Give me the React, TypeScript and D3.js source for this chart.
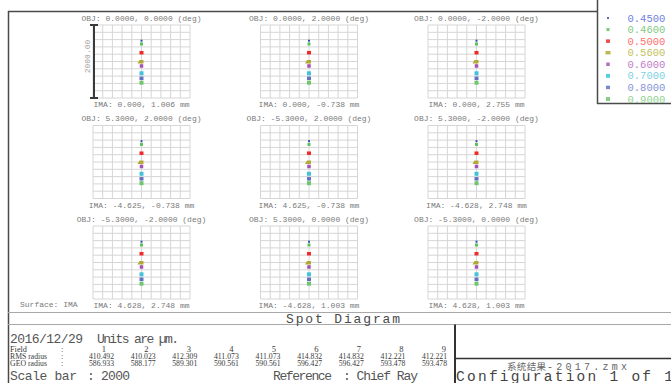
import React from 'react';
import * as d3 from 'd3';

// ---------- data ----------
const objLabels = [
  '0.0000, 0.0000', '0.0000, 2.0000', '0.0000, -2.0000',
  '5.3000, 2.0000', '-5.3000, 2.0000', '5.3000, -2.0000',
  '-5.3000, -2.0000', '5.3000, 0.0000', '-5.3000, 0.0000',
];
const imaLabels = [
  '0.000, 1.006', '0.000, -0.738', '0.000, 2.755',
  '-4.625, -0.738', '4.625, -0.738', '-4.628, 2.748',
  '4.628, 2.748', '-4.628, 1.003', '4.628, 1.003',
];
const wavelengths = ['0.4500', '0.4600', '0.5000', '0.5600', '0.6000', '0.7000', '0.8000', '0.9000'];
// centroid offsets of each wavelength spot (µm)
const spotY = [570, 480, 241, -5, -123, -323, -460, -581];
const spotX = [0, 0, 0, -10, 0, 0, 0, 0];
const fieldNumbers = [1, 2, 3, 4, 5, 6, 7, 8, 9];
const rmsRadius = ['410.492', '410.023', '412.309', '411.073', '411.073', '414.832', '414.832', '412.221', '412.221'];
const geoRadius = ['586.933', '588.177', '589.301', '590.561', '590.561', '596.427', '596.427', '593.478', '593.478'];
const rowLabels = ['Field', 'RMS radius', 'GEO radius'];
const scaleBar = 2000;
const gridTicks = d3.range(-1000, 1001, 200);

// ---------- styles ----------
const waveColors = ['#2f4fb5', '#5cc35c', '#f02a2a', '#b3aa35', '#a552b5', '#42c3d9', '#6272c2', '#6ec86e'];
const waveTextColors = ['#6f80e0', '#7fc97f', '#ff6f6f', '#c2c25e', '#c07cc8', '#7ed2e2', '#8594d6', '#8fd18f'];
const spotW = [2, 3, 4, 5, 3.5, 4, 4, 4];
const spotH = [2, 3, 3.5, 3.5, 3.5, 4, 3.5, 4];
const rowLabelWidths = [17, 37, 37];

const W = 671;
const H = 383;
const MONO = '"Liberation Mono", "DejaVu Sans Mono", monospace';
const SERIF = '"Liberation Serif", "DejaVu Serif", serif';

const gridW = 97;
const gridH = 73;
const colX = d3.scaleLinear().domain([0, 2]).range([93, 428]);
const rowY = d3.scaleLinear().domain([0, 2]).range([25, 226]);

function Panel({ idx }: { idx: number }) {
  const c = idx % 3;
  const r = Math.floor(idx / 3);
  const x0 = colX(c);
  const y0 = rowY(r);
  const xs = d3.scaleLinear().domain([-1000, 1000]).range([x0, x0 + gridW]);
  const ys = d3.scaleLinear().domain([-1000, 1000]).range([y0 + gridH, y0]);
  const cx = x0 + gridW / 2;
  return (
    <g>
      {gridTicks.map((t) => (
        <line key={'v' + t} x1={xs(t)} x2={xs(t)} y1={y0} y2={y0 + gridH} stroke="#d6d6d6" strokeWidth={1} />
      ))}
      {gridTicks.map((t) => (
        <line key={'h' + t} x1={x0} x2={x0 + gridW} y1={ys(t)} y2={ys(t)} stroke="#d6d6d6" strokeWidth={1} />
      ))}
      {spotY.map((v, i) => {
        const px = xs(spotX[i]);
        const py = ys(v);
        if (i === 3) {
          const w = spotW[i];
          const h = spotH[i];
          return (
            <polygon
              key={i}
              points={`${px - w / 2 + 1},${py - h / 2} ${px + w / 2},${py - h / 2} ${px + w / 2},${py + h / 2} ${px - w / 2 - 1},${py + h / 2}`}
              fill={waveColors[i]}
            />
          );
        }
        return (
          <rect key={i} x={px - spotW[i] / 2} y={py - spotH[i] / 2} width={spotW[i]} height={spotH[i]} fill={waveColors[i]} />
        );
      })}
      <text x={cx} y={y0 - 4.5} textAnchor="middle" fontFamily={MONO} fontSize={8} fill="#7a7a7a">
        {`OBJ: ${objLabels[idx]} (deg)`}
      </text>
      <text x={cx} y={y0 + gridH + 9} textAnchor="middle" fontFamily={MONO} fontSize={8} fill="#7a7a7a">
        {`IMA: ${imaLabels[idx]} mm`}
      </text>
      {idx === 0 && (
        <g>
          <line x1={x0 + 1} x2={x0 + 1} y1={ys(-scaleBar / 2)} y2={ys(scaleBar / 2)} stroke="#3a3a3a" strokeWidth={2} />
          <line x1={x0 - 3} x2={x0 + 5} y1={ys(scaleBar / 2)} y2={ys(scaleBar / 2)} stroke="#3a3a3a" strokeWidth={2} />
          <line x1={x0 - 3} x2={x0 + 5} y1={ys(-scaleBar / 2)} y2={ys(-scaleBar / 2)} stroke="#3a3a3a" strokeWidth={2} />
          <text
            transform={`translate(${x0 - 3.5},${y0 + 31.5}) rotate(-90)`}
            textAnchor="middle"
            fontFamily={MONO}
            fontSize={8}
            fill="#9a9a9a"
          >
            {scaleBar.toFixed(2)}
          </text>
        </g>
      )}
    </g>
  );
}

export default function App() {
  const valRight = d3.scaleLinear().domain([0, 8]).range([114, 447]);
  const numRight = d3.scaleLinear().domain([0, 8]).range([106, 446]);
  const legendY = d3.scaleLinear().domain([0, 7]).range([18, 99]);
  const tableRowY = d3.scaleLinear().domain([0, 2]).range([352, 366]);
  return (
    <svg
      width={W}
      height={H}
      style={{ position: 'absolute', left: 0, top: 0, background: '#fff' }}
    >
      <rect x={0} y={0} width={W} height={H} fill="#fff" />
      {/* main frame */}
      <line x1={8.5} x2={8.5} y1={11} y2={H + 2} stroke="#4a4a4a" strokeWidth={1.5} />
      <line x1={8} x2={598} y1={11.5} y2={11.5} stroke="#4a4a4a" strokeWidth={1.5} />

      {d3.range(9).map((i) => (
        <Panel key={i} idx={i} />
      ))}

      <text x={20} y={307} fontFamily={MONO} fontSize={8} fill="#7a7a7a">Surface: IMA</text>

      {/* legend */}
      <line x1={597.5} x2={597.5} y1={-1} y2={104} stroke="#4a4a4a" strokeWidth={1.5} />
      <line x1={597} x2={W + 2} y1={103.5} y2={103.5} stroke="#4a4a4a" strokeWidth={1.5} />
      {wavelengths.map((w, i) => (
        <g key={w}>
          <rect
            x={608 - spotW[i] / 2}
            y={legendY(i) - spotH[i] / 2}
            width={spotW[i]}
            height={spotH[i]}
            fill={waveColors[i]}
            opacity={0.85}
          />
          <text x={627.5} y={legendY(i) + 3.5} fontFamily={MONO} fontSize={10.5} fill={waveTextColors[i]}>
            {w}
          </text>
        </g>
      ))}

      {/* bottom section */}
      <line x1={8} x2={W + 2} y1={312.5} y2={312.5} stroke="#a8a8a8" strokeWidth={1.2} />
      <line x1={8} x2={W + 2} y1={324.5} y2={324.5} stroke="#a8a8a8" strokeWidth={1.2} />
      <text x={343} y={323} textAnchor="middle" fontFamily={MONO} fontSize={13} fill="#4a4a4a" textLength={114} lengthAdjust="spacing">
        Spot Diagram
      </text>
      <line x1={455} x2={455} y1={324.5} y2={H + 2} stroke="#333" strokeWidth={2} />
      <line x1={455} x2={W + 2} y1={358.5} y2={358.5} stroke="#333" strokeWidth={1.5} />

      <text x={10} y={343} fontFamily={MONO} fontSize={13} fill="#555" textLength={73} lengthAdjust="spacing">2016/12/29</text>
      <text x={97} y={343} fontFamily={MONO} fontSize={13} fill="#555" textLength={82} lengthAdjust="spacing">Units are µm.</text>

      {rowLabels.map((lab, i) => (
        <g key={lab}>
          <text x={10} y={tableRowY(i)} fontFamily={SERIF} fontSize={8.5} fill="#3a3a3a" textLength={rowLabelWidths[i]} lengthAdjust="spacingAndGlyphs">
            {lab}
          </text>
          <text x={61} y={tableRowY(i)} fontFamily={SERIF} fontSize={8.5} fill="#3a3a3a">:</text>
        </g>
      ))}
      {fieldNumbers.map((n, i) => (
        <text key={'f' + n} x={numRight(i)} y={tableRowY(0)} textAnchor="end" fontFamily={SERIF} fontSize={8.5} fill="#3a3a3a">
          {n}
        </text>
      ))}
      {rmsRadius.map((v, i) => (
        <text key={'r' + i} x={valRight(i) - 25} y={tableRowY(1)} fontFamily={SERIF} fontSize={8.5} fill="#3a3a3a" textLength={25} lengthAdjust="spacingAndGlyphs">
          {v}
        </text>
      ))}
      {geoRadius.map((v, i) => (
        <text key={'g' + i} x={valRight(i) - 25} y={tableRowY(2)} fontFamily={SERIF} fontSize={8.5} fill="#3a3a3a" textLength={25} lengthAdjust="spacingAndGlyphs">
          {v}
        </text>
      ))}

      <text x={10} y={380} fontFamily={MONO} fontSize={13} fill="#555" textLength={67} lengthAdjust="spacing">Scale bar</text>
      <text x={87} y={380} fontFamily={MONO} fontSize={13} fill="#555" textLength={43} lengthAdjust="spacing">{`: ${scaleBar}`}</text>
      <text x={273} y={380} fontFamily={MONO} fontSize={13} fill="#555" textLength={59} lengthAdjust="spacing">Reference</text>
      <text x={343} y={380} fontFamily={MONO} fontSize={13} fill="#555" textLength={75} lengthAdjust="spacing">: Chief Ray</text>

      <text x={507} y={369.5} fontFamily={'"Noto Sans CJK SC", sans-serif'} fontSize={9.5} fill="#666" textLength={39} lengthAdjust="spacing">
        系统结果
      </text>
      <text x={547} y={369.5} fontFamily={MONO} fontSize={10} fill="#666" textLength={80} lengthAdjust="spacing">
        -2017.zmx
      </text>
      <text x={456} y={381} fontFamily={MONO} fontSize={14.5} fill="#444" textLength={217} lengthAdjust="spacing">
        Configuration 1 of 1
      </text>
    </svg>
  );
}
